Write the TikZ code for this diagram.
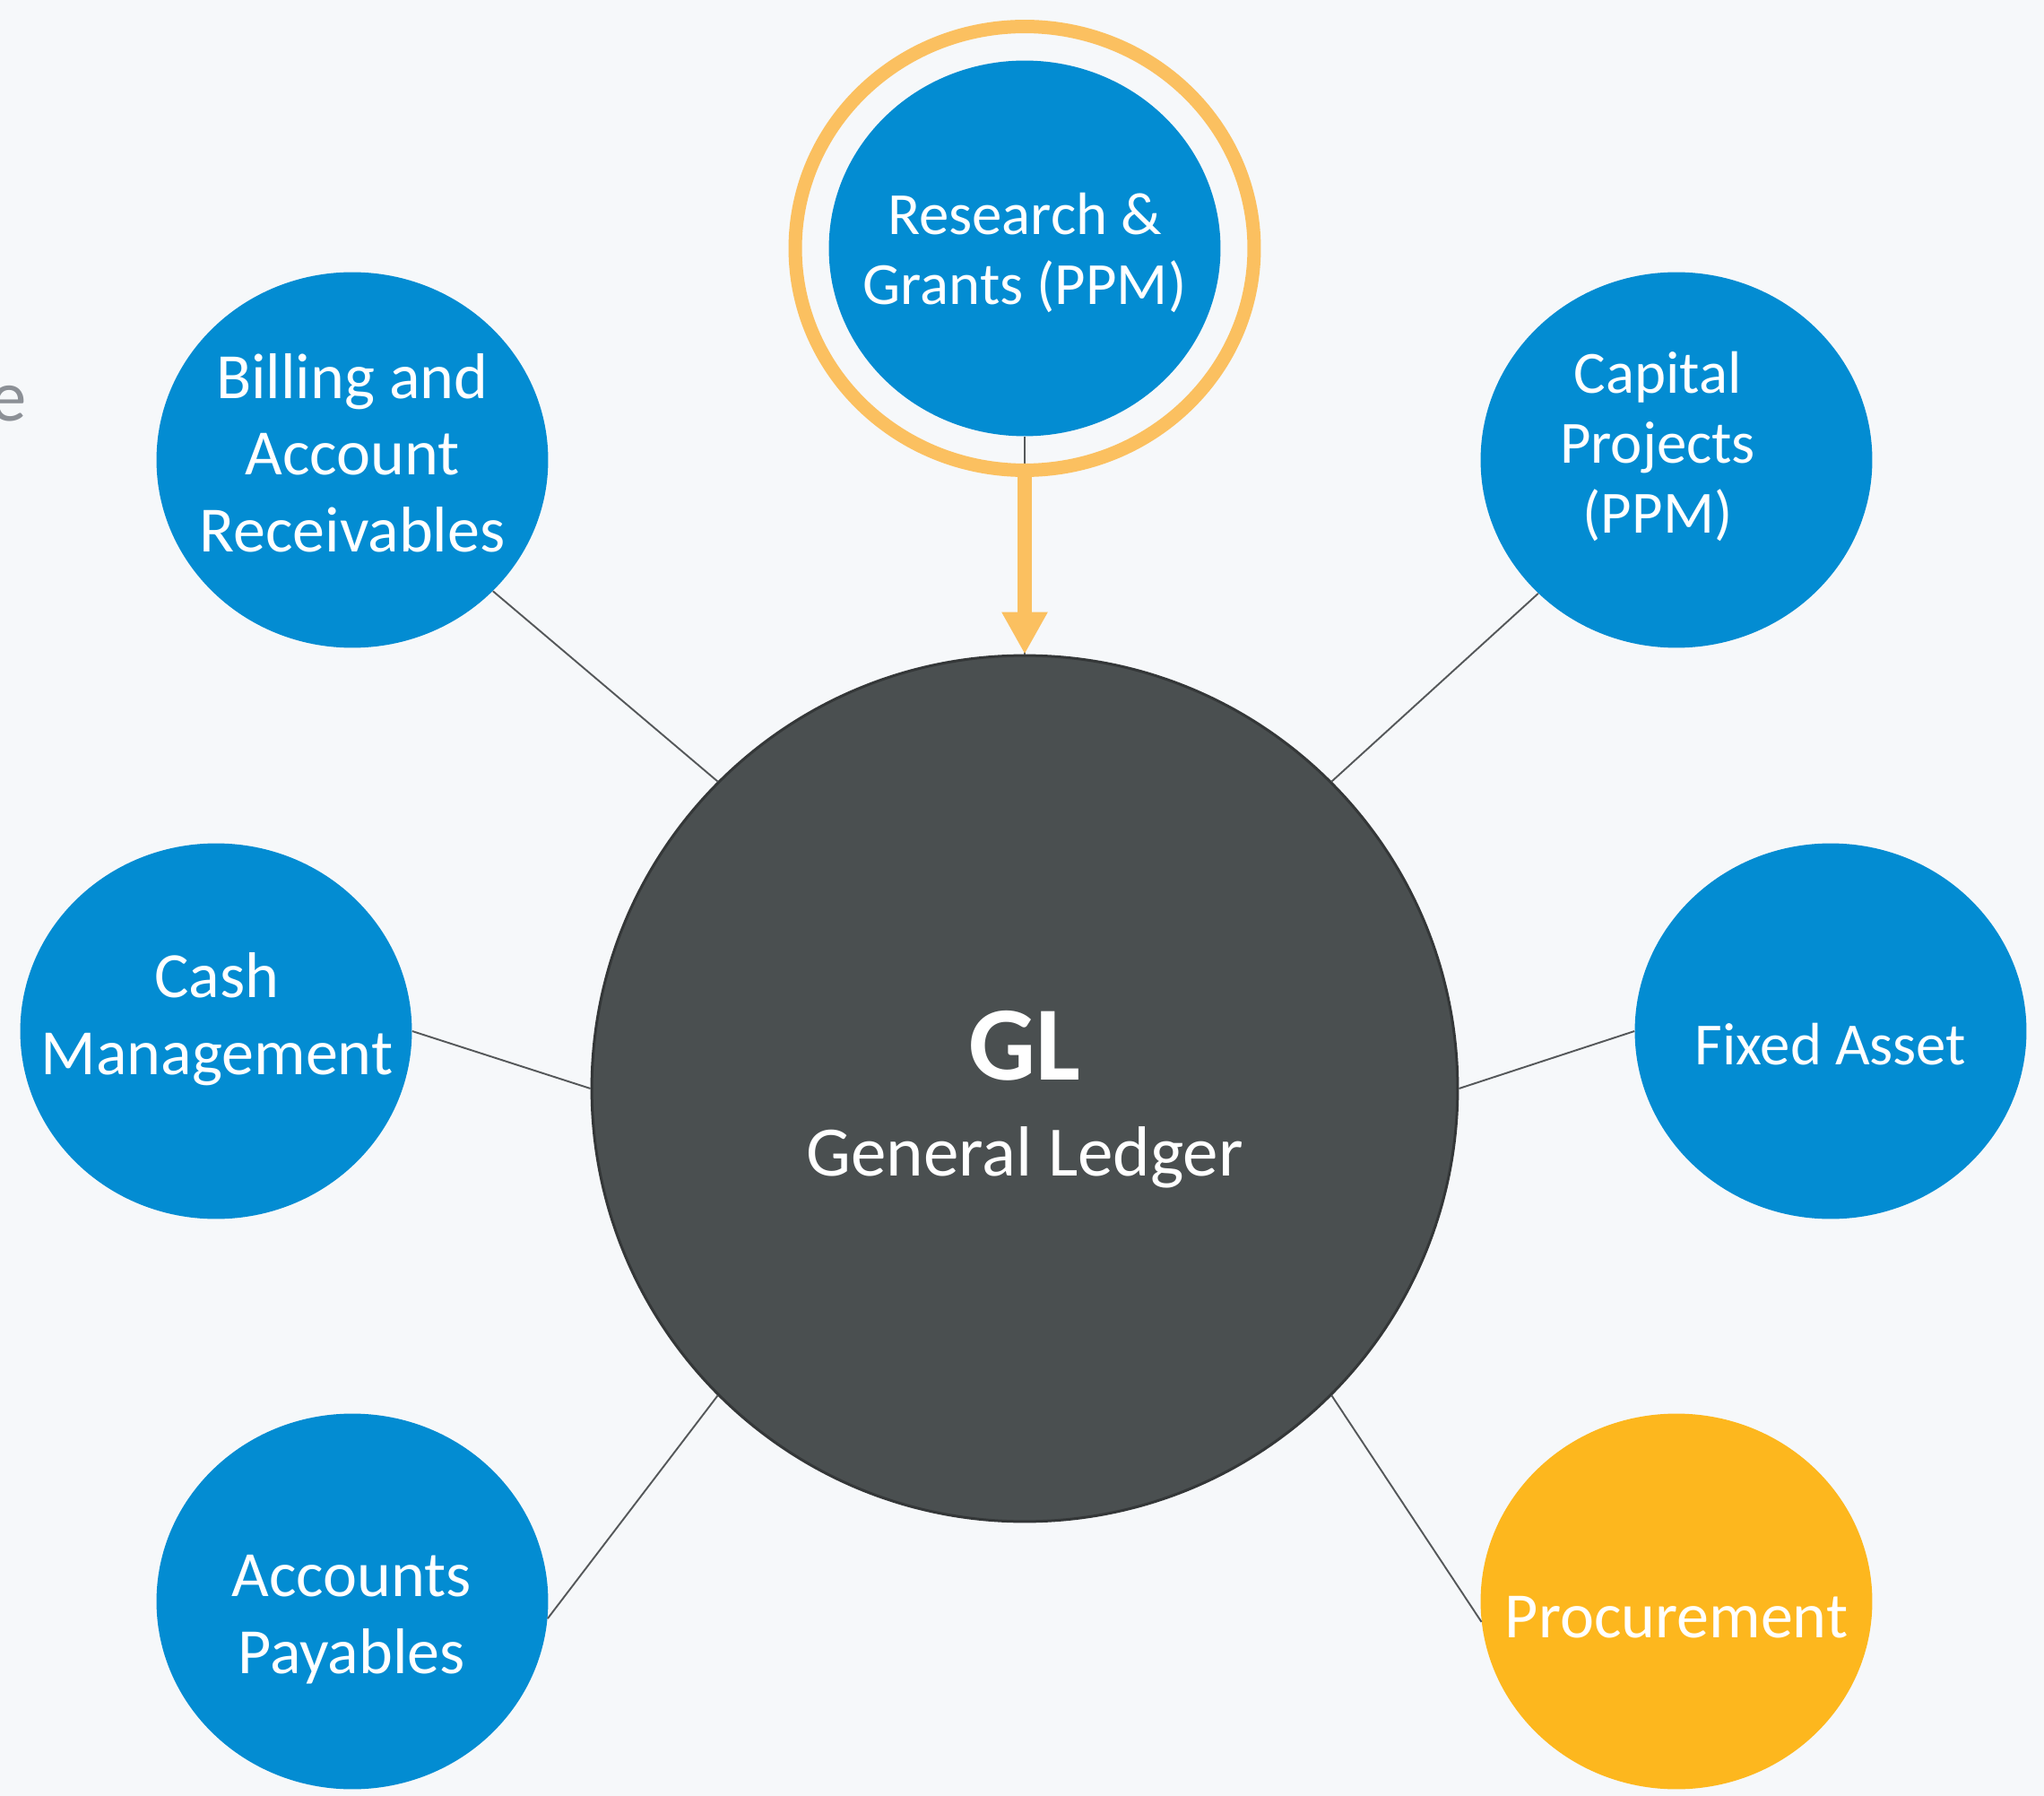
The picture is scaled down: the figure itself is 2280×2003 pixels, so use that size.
\documentclass[tikz,border=0pt]{standalone}
\usepackage{fontspec}
\setmainfont{Carlito}
\usepackage{tikz}
\usetikzlibrary{arrows.meta,shapes.geometric}
\definecolor{bg}{RGB}{246,248,250}
\definecolor{modblue}{RGB}{3,140,210}
\definecolor{modyellow}{RGB}{253,183,30}
\definecolor{ringorange}{RGB}{251,192,96}
\definecolor{glgray}{RGB}{74,79,80}
\definecolor{glborder}{RGB}{52,55,56}
\definecolor{linkgray}{RGB}{85,88,90}
\definecolor{cutgray}{RGB}{140,144,150}

\begin{document}
\begin{tikzpicture}[x=0.02cm,y=-0.02cm,
  module/.style={ellipse,fill=modblue,inner sep=0pt,minimum width=8.74cm,minimum height=8.38cm},
  txt/.style={text=white,align=center,inner sep=0pt},
  big/.style={txt,font=\fontsize{41}{48.8}\selectfont},
  small/.style={txt,font=\fontsize{38}{44.5}\selectfont},
  link/.style={draw=linkgray,line width=1.1pt},
  hl/.style={draw=ringorange,line width=0.32cm,-{Triangle[width=0.96cm,length=0.94cm]}}]
\useasboundingbox (0,0) rectangle (2280,2003);
\fill[bg] (0,0) rectangle (2280,2003);
\node[anchor=base east,inner sep=0pt,text=cutgray,font=\fontsize{46}{55}\selectfont] (cut) at (30,470) {e};

\node[circle,fill=glgray,draw=glborder,line width=0.06cm,minimum size=19.32cm] (gl) at (1143,1214) {};
\node[txt,font=\fontsize{45}{60.6}\selectfont] (glt) at (1143,1226)
  {{\fontsize{67}{60.6}\selectfont\bfseries GL}\\General Ledger};

\node[module] (rg) at (1143,277) {};
\node[small] (rgt) at (1143,282) {Research \&\\Grants (PPM)};
\node[module] (bar) at (393,513) {};
\node[big] (bart) at (393,505) {Billing and\\Account\\Receivables};
\node[module] (cap) at (1870,513) {};
\node[small] (capt) at (1849,498) {Capital\\Projects\\(PPM)};
\node[module] (cash) at (241,1150) {};
\node[big] (casht) at (242,1137) {Cash\\Management};
\node[module] (fa) at (2042,1150) {};
\node[small] (fat) at (2042,1165) {Fixed Asset};
\node[module] (ap) at (393,1786) {};
\node[big] (apt) at (392,1806) {Accounts\\Payables};
\node[module,fill=modyellow] (proc) at (1870,1786) {};
\node[big] (proct) at (1870,1804) {Procurement};

\draw[link] (bar.-43) -- (gl.135);
\draw[link] (cap.224) -- (gl.45);
\draw[link] (cash.0) -- (gl.180);
\draw[link] (fa.180) -- (gl.0);
\draw[link] (ap.-5) -- (gl.225);
\draw[link] (proc.186) -- (gl.-45);
\draw[link] (rg.south) -- (gl.north);

\node[ellipse,draw=ringorange,line width=0.3cm,inner sep=0pt,minimum width=10.24cm,minimum height=9.9cm] (ring) at (rg) {};
\draw[hl] (ring.south) -- (gl.north);
\end{tikzpicture}
\end{document}
